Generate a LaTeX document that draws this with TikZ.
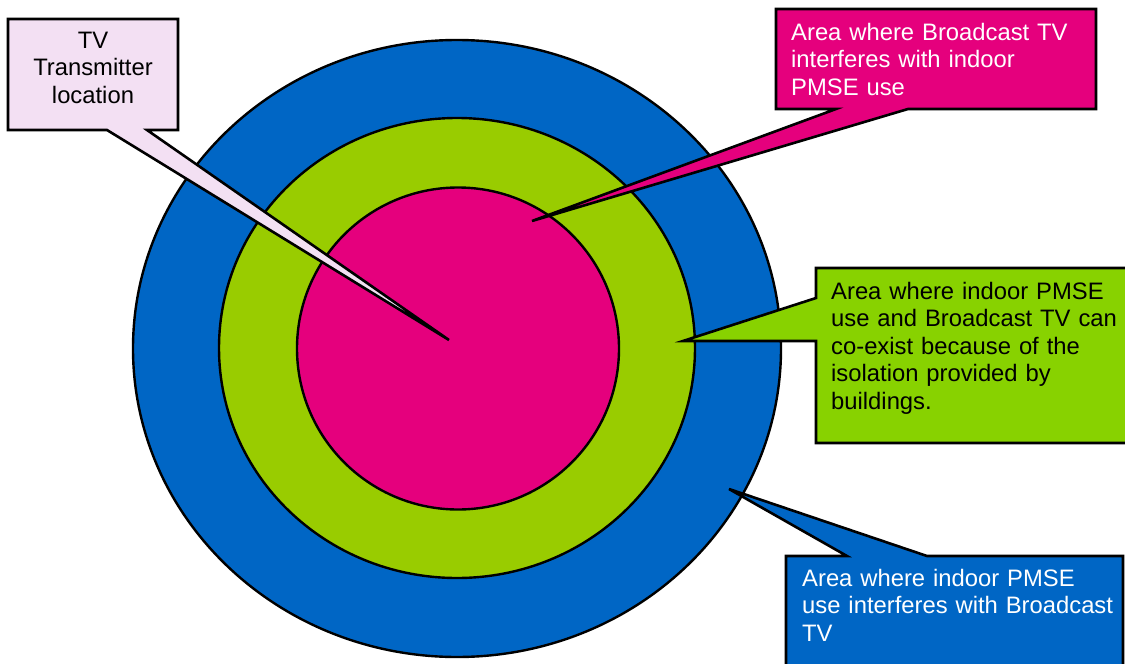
\documentclass[tikz,border=0pt]{standalone}
\usepackage{fontspec}
\setmainfont{Liberation Sans}
\definecolor{tvfill}{HTML}{F3E0F3}
\definecolor{ringblue}{HTML}{0066C5}
\definecolor{ringgreen}{HTML}{99CC00}
\definecolor{ringpink}{HTML}{E5007D}
\definecolor{boxgreen}{HTML}{88D200}
\begin{document}
\begin{tikzpicture}[x=1pt,y=-1pt,
  ring/.style={draw=black, line width=2.4pt},
  boxarea/.style={inner sep=0pt, outer sep=0pt, draw=none, anchor=north west},
  callout/.style={draw=black, line width=2.6pt, line join=miter},
  lbl/.style={font=\fontsize{23.8}{27.5}\selectfont, inner sep=0pt, text width=#1},
]
\useasboundingbox (0,0) rectangle (1125,664);
% rings
\draw[ring, fill=ringblue] (457,348.5) ellipse [x radius=324, y radius=308.5];
\draw[ring, fill=ringgreen] (457,348) ellipse [x radius=238, y radius=230];
\draw[ring, fill=ringpink] (458,348.5) circle [radius=161];

% pointer tips and bases
\coordinate (tvtip) at (449,340);
\coordinate (tvb1) at (147,130);
\coordinate (tvb2) at (107,130);
\coordinate (pktip) at (532,221);
\coordinate (pkb1) at (908,109);
\coordinate (pkb2) at (836,109);
\coordinate (grtip) at (683,341);
\coordinate (grb1) at (816,341);
\coordinate (grb2) at (816,298);
\coordinate (bltip) at (729,489);
\coordinate (blb1) at (847,556);
\coordinate (blb2) at (927,556);

% box areas
\node[boxarea, minimum width=170pt, minimum height=111pt] (tvbox) at (8,19) {};
\node[boxarea, minimum width=320pt, minimum height=100pt] (pkbox) at (776,9) {};
\node[boxarea, minimum width=314pt, minimum height=175pt] (grbox) at (816,268) {};
\node[boxarea, minimum width=337pt, minimum height=114pt] (blbox) at (786,556) {};

% callouts
\draw[callout, fill=tvfill] (tvbox.north west) -- (tvbox.north east) -- (tvbox.south east)
  -- (tvb1) -- (tvtip) -- (tvb2) -- (tvbox.south west) -- cycle;
\draw[callout, fill=ringpink] (pkbox.north west) -- (pkbox.north east) -- (pkbox.south east)
  -- (pkb1) -- (pktip) -- (pkb2) -- (pkbox.south west) -- cycle;
\draw[callout, fill=boxgreen] (grbox.north west) -- (grbox.north east) -- (grbox.south east)
  -- (grbox.south west) -- (grb1) -- (grtip) -- (grb2) -- cycle;
\draw[callout, fill=ringblue] (blbox.north west) -- (blb1) -- (bltip) -- (blb2)
  -- (blbox.north east) -- (blbox.south east) -- (blbox.south west) -- cycle;

% labels
\node[lbl=165pt, align=center, anchor=base] (tvlabel) at (93,48)
  {TV\\Transmitter\\location};
\node[lbl=310pt, align=left, anchor=base west, text=white] (pklabel) at (791,40)
  {Area where Broadcast TV\\interferes with indoor\\PMSE use};
\node[lbl=300pt, align=left, anchor=base west] (grlabel) at (831,299)
  {Area where indoor PMSE\\use and Broadcast TV can\\co-exist because of the\\isolation provided by\\buildings.};
\node[lbl=320pt, align=left, anchor=base west, text=white] (bllabel) at (802,586)
  {Area where indoor PMSE\\use interferes with Broadcast\\TV};
\end{tikzpicture}
\end{document}
